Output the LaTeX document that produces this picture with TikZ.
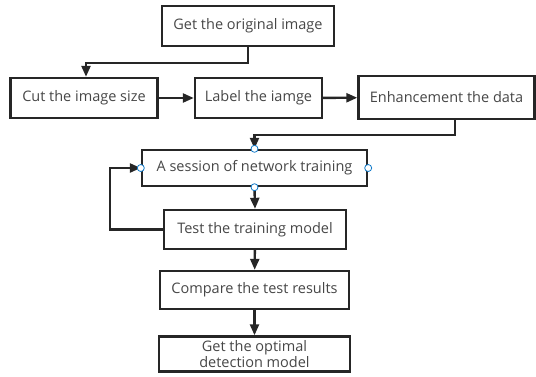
\documentclass[tikz,border=0pt]{standalone}
\usepackage{fontspec}
\setmainfont{Open Sans}
\usetikzlibrary{arrows.meta}
\begin{document}
\begin{tikzpicture}[x=1pt,y=-1pt,
  stepbox/.style={draw=black!85, line width=2.4pt, fill=white, inner sep=0pt,
    text=black!72, font=\fontsize{14.5}{17}\selectfont, align=center},
  link/.style={draw=black!85, line width=2.4pt, -{Triangle[length=11pt,width=9pt]}},
  port/.style={circle, draw=cyan!60!blue, fill=white, line width=0.8pt, inner sep=0pt, minimum size=7pt}]
  \useasboundingbox (0,0) rectangle (536,376);

  \node[stepbox, minimum width=172pt, minimum height=40pt] (orig) at (248,26) {Get the original image};
  \node[stepbox, minimum width=147pt, minimum height=40pt] (cut) at (84,98) {Cut the image size};
  \node[stepbox, minimum width=127pt, minimum height=40pt] (lab) at (258.5,98) {Label the iamge};
  \node[stepbox, minimum width=176pt, minimum height=43pt] (enh) at (446.5,97.5) {Enhancement the data};
  \node[stepbox, minimum width=225pt, minimum height=36pt] (sess) at (254.5,168) {A session of network training};
  \node[stepbox, minimum width=182pt, minimum height=39pt] (test) at (255,229.5) {Test the training model};
  \node[stepbox, minimum width=189pt, minimum height=38pt] (cmp) at (254.5,290) {Compare the test results};
  \node[stepbox, minimum width=191pt, minimum height=35pt, font=\fontsize{14.5}{15.5}\selectfont] (best) at (254.5,354) {Get the optimal\\detection model};

  % flow
  \draw[link] (orig.south) -- ++(0,16) -| ([xshift=2pt]cut.north);
  \draw[link] (cut) -- (lab);
  \draw[link] (lab) -- (enh);
  \draw[link] ([xshift=8.5pt]enh.south) -- ++(0,14.5) -| (sess.north);
  \draw[link] (sess.south) -- (test.north);
  \draw[link] (test.west) -- ++(-53,0) |- (sess.west);
  \draw[link] (test) -- (cmp);
  \draw[link] (cmp) -- (best);

  % connection handles on the training box
  \node[port] (pn) at (sess.north) {};
  \node[port] (pw) at (sess.west) {};
  \node[port] (pe) at (sess.east) {};
  \node[port] (ps) at (sess.south) {};
\end{tikzpicture}
\end{document}
